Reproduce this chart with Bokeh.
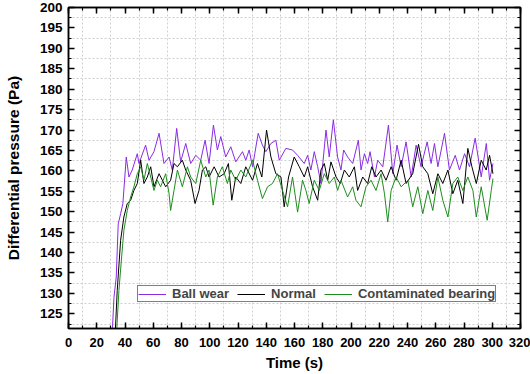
from bokeh.plotting import figure
from bokeh.models import (LinearAxis, Range1d, SingleIntervalTicker, FixedTicker,
                          Legend, LegendItem, ColumnDataSource, CustomJSTickFormatter)
from bokeh.embed import file_html
from bokeh.resources import INLINE

# ---------------- data ----------------
ball_t = [30.5, 32.2, 33.8, 35.2, 36.9, 38.5, 40.9, 42.8, 45.1, 48.7, 49.9, 54.6, 57.0, 60.5,
          64.1, 67.6, 71.2, 73.5, 76.6, 79.4, 83.0, 86.5, 90.1, 93.6, 96.7, 99.5, 102.6, 105.4,
          107.8, 111.3, 114.9, 118.4, 123.2, 125.5, 127.9, 130.3, 134.3, 137.3, 139.7, 143.3,
          146.8, 149.2, 153.9, 158.6, 162.2, 166.9, 169.3, 171.6, 174.0, 176.4, 178.7, 182.3,
          184.6, 187.5, 190.5, 192.9, 194.8, 197.6, 201.2, 205.2, 207.1, 209.5, 211.8, 213.5,
          216.6, 218.9, 222.5, 226.5, 229.6, 232.6, 235.5, 239.0, 242.6, 246.1, 249.6, 253.9,
          256.7, 259.1, 261.5, 266.2, 269.7, 273.8, 276.8, 280.4, 283.9, 287.9, 292.2, 295.8,
          298.1, 300.5]
ball_v = [117.0, 129.0, 134.0, 147.0, 149.5, 152.0, 163.4, 158.5, 160.2, 164.2, 161.8, 166.3, 162.6, 164.7,
          169.2, 161.8, 163.4, 160.2, 170.4, 162.2, 166.7, 161.8, 163.8, 162.6, 167.5, 161.8, 171.2, 165.1,
          168.4, 163.4, 165.9, 162.2, 164.7, 162.6, 165.1, 161.0, 169.2, 166.3, 164.7, 166.7,
          167.5, 162.6, 165.5, 165.1, 163.8, 161.8, 163.8, 160.2, 164.7, 161.0, 156.9, 170.0,
          163.4, 172.5, 163.4, 160.2, 165.1, 163.4, 161.8, 167.5, 160.2, 164.2, 161.8, 164.7,
          158.5, 162.6, 161.0, 171.2, 159.3, 166.3, 161.0, 167.1, 158.5, 166.3, 161.0, 167.1,
          161.8, 166.7, 161.0, 169.2, 160.2, 163.8, 160.2, 164.2, 161.0, 168.0, 158.5, 166.7,
          157.7, 161.8]

normal_t = [32.9, 34.5, 36.9, 39.2, 41.6, 44.0, 46.3, 48.7, 51.1, 53.4, 55.8, 58.2, 60.5, 64.1,
            68.8, 72.3, 74.7, 77.1, 80.6, 83.0, 86.5, 89.6, 92.4, 94.8, 97.2, 99.5, 103.1, 106.6,
            110.2, 113.2, 115.6, 118.4, 122.0, 125.5, 130.3, 133.8, 136.9, 140.2, 143.3, 146.8,
            150.4, 152.7, 155.8, 159.8, 163.4, 166.9, 169.3, 172.8, 176.4, 178.7, 181.1, 183.5,
            185.8, 189.4, 192.4, 195.3, 198.8, 202.4, 204.7, 208.3, 211.8, 214.7, 217.7, 221.3,
            224.8, 228.4, 231.9, 235.5, 239.0, 243.7, 247.8, 250.8, 254.4, 257.9, 261.5, 265.0,
            268.6, 272.1, 275.6, 279.2, 282.7, 285.6, 288.7, 292.2, 295.7, 298.1, 300.5]
normal_v = [119.0, 130.7, 143.0, 148.7, 152.0, 152.8, 155.2, 156.9, 162.6, 156.9, 158.5, 161.0, 156.1, 159.3,
            156.1, 157.7, 161.8, 161.0, 162.6, 160.2, 157.7, 152.0, 155.2, 160.2, 161.0, 158.5, 161.0, 158.5,
            159.3, 161.8, 152.8, 158.5, 156.9, 161.0, 157.7, 161.8, 158.5, 170.0, 163.4, 159.3,
            158.5, 151.2, 158.5, 163.4, 161.0, 158.5, 161.0, 156.1, 152.8, 160.2, 161.8, 157.7,
            162.2, 158.5, 156.9, 160.2, 158.5, 161.0, 155.2, 158.5, 156.9, 161.0, 158.5, 160.2,
            157.7, 161.0, 157.7, 162.6, 156.9, 159.3, 166.5, 161.0, 159.3, 154.4, 159.3, 156.9,
            160.2, 154.4, 157.7, 152.0, 165.5, 161.0, 156.9, 162.6, 160.2, 163.8, 159.3]

cont_t = [33.8, 35.7, 37.6, 39.2, 41.6, 44.0, 46.3, 48.7, 51.1, 53.4, 55.8, 58.2, 60.5, 62.9,
          65.2, 68.8, 71.2, 72.3, 74.7, 77.1, 80.6, 84.2, 86.5, 90.1, 93.6, 97.2, 99.5, 102.4,
          105.4, 108.9, 112.5, 114.9, 118.4, 122.0, 125.5, 130.3, 133.8, 137.3, 140.9, 144.4,
          148.0, 151.5, 155.1, 158.6, 162.2, 165.7, 168.1, 170.4, 174.0, 177.5, 181.1, 184.6,
          188.2, 190.5, 192.9, 197.6, 201.2, 203.5, 207.1, 210.6, 214.2, 217.7, 221.3, 223.7,
          226.0, 228.4, 231.9, 235.5, 240.2, 243.7, 247.3, 250.8, 254.4, 257.9, 261.5, 265.0,
          268.6, 272.1, 275.6, 279.2, 282.7, 286.3, 288.7, 292.2, 296.4, 299.3, 300.5]
cont_v = [119.0, 130.7, 138.9, 145.4, 150.3, 153.6, 156.1, 159.3, 161.0, 157.7, 161.8, 158.5, 155.2, 157.7,
          156.1, 159.3, 154.4, 150.3, 155.2, 160.2, 156.1, 161.0, 158.5, 156.9, 162.6, 158.5, 160.2, 151.6,
          158.5, 161.0, 156.9, 160.2, 157.7, 160.2, 158.5, 162.6, 157.7, 153.2, 156.1, 156.9,
          159.3, 155.2, 151.2, 158.5, 149.9, 157.7, 155.2, 152.0, 157.7, 155.2, 159.3, 156.9,
          158.5, 155.2, 157.7, 153.6, 156.1, 152.8, 151.2, 156.1, 157.7, 155.2, 159.3, 154.4,
          147.5, 155.2, 158.5, 156.1, 157.7, 151.2, 156.1, 149.5, 155.2, 150.3, 158.5, 152.8,
          148.7, 156.9, 158.5, 155.2, 158.5, 155.2, 148.7, 156.1, 147.9, 155.2, 158.1]

series_names = ["Ball wear", "Normal", "Contaminated bearing"]
series_colors = ["#8A2BE2", "#000000", "#1E8C1E"]

x_start, x_end = 0, 320
y_start, y_end = 121.4, 200

FONT = "Liberation Sans"

p = figure(width=530, height=374, output_backend="svg", toolbar_location=None,
           x_range=Range1d(x_start, x_end), y_range=Range1d(y_start, y_end),
           min_border_left=68, min_border_right=10, min_border_top=7, min_border_bottom=46,
           background_fill_color="white", border_fill_color="white")
p.outline_line_color = "black"
p.outline_line_width = 1.5


def style_axis(ax, ticker, labels=True):
    ax.ticker = ticker
    ax.axis_line_color = "black"
    ax.axis_line_width = 1.5
    ax.major_tick_line_color = "black"
    ax.major_tick_line_width = 1.5
    ax.minor_tick_line_color = "black"
    ax.minor_tick_line_width = 1.2
    ax.major_tick_in = 6
    ax.major_tick_out = 0
    ax.minor_tick_in = 3
    ax.minor_tick_out = 0
    if labels:
        ax.major_label_text_font = FONT
        ax.major_label_text_font_style = "bold"
        ax.major_label_text_color = "black"
        ax.axis_label_text_font = FONT
        ax.axis_label_text_font_style = "bold"
        ax.axis_label_text_color = "black"
    else:
        ax.formatter = CustomJSTickFormatter(code="return '';")
        ax.major_label_text_font_size = "1px"
        ax.major_label_text_color = None
        ax.major_label_standoff = 0
        ax.axis_label_standoff = 0


style_axis(p.xaxis[0], SingleIntervalTicker(interval=20, num_minor_ticks=2))
style_axis(p.yaxis[0], SingleIntervalTicker(interval=5, num_minor_ticks=2))
p.xaxis[0].major_label_text_font_size = "13px"
p.yaxis[0].major_label_text_font_size = "13.5px"
p.xaxis[0].major_label_standoff = 9
p.yaxis[0].major_label_standoff = 6
p.xaxis[0].axis_label = "Time (s)"
p.yaxis[0].axis_label = "Differential pressure (Pa)"
p.xaxis[0].axis_label_text_font_size = "15px"
p.yaxis[0].axis_label_text_font_size = "15.5px"
p.xaxis[0].axis_label_standoff = 4
p.yaxis[0].axis_label_standoff = 15

top_ax = LinearAxis()
style_axis(top_ax, SingleIntervalTicker(interval=20, num_minor_ticks=2), labels=False)
p.add_layout(top_ax, "above")
right_ax = LinearAxis()
style_axis(right_ax, SingleIntervalTicker(interval=5, num_minor_ticks=2), labels=False)
p.add_layout(right_ax, "right")

# grid lines sit at the minor-tick positions (odd tens on x, x.5 on y)
p.xgrid.ticker = FixedTicker(ticks=list(range(10, 320, 20)))
p.ygrid.ticker = FixedTicker(ticks=[122.5 + 5 * i for i in range(16)])
for g in (p.xgrid, p.ygrid):
    g.grid_line_color = "#cfcfcf"
    g.grid_line_dash = "2 2"
    g.grid_line_width = 1

renderers = []
for t, v, c in zip([ball_t, normal_t, cont_t], [ball_v, normal_v, cont_v], series_colors):
    src = ColumnDataSource(dict(t=t, v=v))
    r = p.line("t", "v", source=src, line_color=c, line_width=1)
    renderers.append(r)

legend = Legend(items=[LegendItem(label=n, renderers=[r]) for n, r in zip(series_names, renderers)],
                location=(69, 26), orientation="horizontal")
legend.border_line_color = "black"
legend.border_line_width = 1
legend.background_fill_color = "white"
legend.background_fill_alpha = 1
legend.label_text_font = FONT
legend.label_text_font_style = "bold"
legend.label_text_font_size = "13px"
legend.glyph_width = 28
legend.glyph_height = 8
legend.label_height = 8
legend.padding = 0
legend.spacing = 8
legend.label_standoff = 6
legend.margin = 0
p.add_layout(legend)

open("out.html", "w").write(file_html(p, INLINE))
